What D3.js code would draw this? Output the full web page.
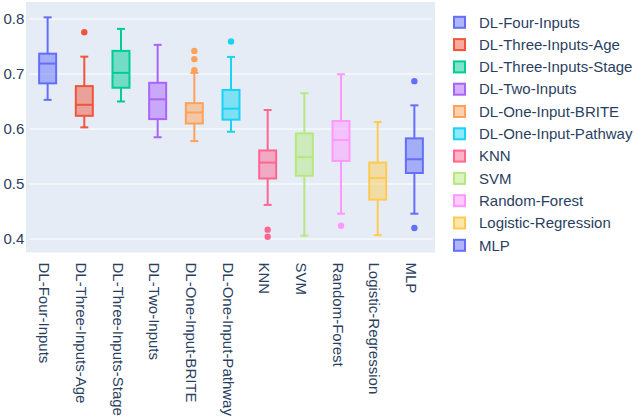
<!DOCTYPE html>
<html>
<head>
<meta charset="utf-8">
<script src="https://cdn.jsdelivr.net/npm/d3@7"></script>
<style>
  html, body { margin: 0; padding: 0; background: #ffffff; }
  svg { display: block; }
  text { font-family: "Liberation Sans", Arial, Helvetica, sans-serif; fill: #2a3f5f; }
</style>
</head>
<body>
<svg id="chart" width="634" height="417"></svg>
<script>
const categories = ["DL-Four-Inputs", "DL-Three-Inputs-Age", "DL-Three-Inputs-Stage", "DL-Two-Inputs",
  "DL-One-Input-BRITE", "DL-One-Input-Pathway", "KNN", "SVM", "Random-Forest", "Logistic-Regression", "MLP"];
const lowerWhisker = [0.653, 0.603, 0.650, 0.585, 0.578, 0.595, 0.462, 0.406, 0.446, 0.407, 0.446];
const q1Values     = [0.683, 0.624, 0.675, 0.618, 0.610, 0.617, 0.510, 0.515, 0.542, 0.4715, 0.520];
const medianValues = [0.719, 0.644, 0.702, 0.654, 0.630, 0.637, 0.539, 0.549, 0.580, 0.511, 0.545];
const q3Values     = [0.737, 0.678, 0.742, 0.684, 0.647, 0.671, 0.561, 0.592, 0.6145, 0.539, 0.583];
const upperWhisker = [0.803, 0.7315, 0.782, 0.753, 0.702, 0.731, 0.6345, 0.665, 0.6995, 0.6127, 0.643];
const outliers     = [[], [0.776], [], [], [0.742, 0.727, 0.707], [0.759], [0.417, 0.404], [], [0.424], [], [0.687, 0.420]];
const colors = ["#636efa", "#EF553B", "#00cc96", "#ab63fa", "#FFA15A", "#19d3f3", "#FF6692", "#B6E880", "#FF97FF", "#FECB52", "#636efa"];
const yTicks = [0.4, 0.5, 0.6, 0.7, 0.8];

const svg = d3.select("#chart");
const plot = { left: 29.3, right: 432.7, top: 2, bottom: 252.5 };
const fontSize = 15;

const x = d3.scaleBand().domain(categories).range([plot.left, plot.right]).padding(0);
const y = d3.scaleLinear().domain([0.8 - (252.5 - 19) / 550, 0.8 + (19 - 2) / 550]).range([plot.bottom, plot.top]);

// background
svg.append("rect").attr("x", 26).attr("y", plot.top).attr("width", 435 - 26).attr("height", plot.bottom - plot.top)
  .attr("fill", "#E5ECF6");

// gridlines
svg.append("g").selectAll("line").data(yTicks).join("line")
  .attr("x1", plot.left).attr("x2", plot.right)
  .attr("y1", d => y(d)).attr("y2", d => y(d))
  .attr("stroke", "#ffffff").attr("stroke-width", 1);

// y axis labels
const yAxis = d3.axisLeft(y).tickValues(yTicks).tickFormat(d3.format(".1f")).tickSize(0).tickPadding(5);
const yg = svg.append("g").attr("transform", `translate(${plot.left},0)`).call(yAxis);
yg.select(".domain").remove();
yg.selectAll("text").style("font-size", fontSize + "px").attr("fill", "#2a3f5f")
  .style("font-family", '"Liberation Sans", Arial, sans-serif');

// x axis labels (rotated)
const xAxis = d3.axisBottom(x).tickSize(0).tickPadding(0);
const xg = svg.append("g").attr("transform", `translate(0,${plot.bottom})`).call(xAxis);
xg.select(".domain").remove();
xg.selectAll(".tick text")
  .style("font-size", fontSize + "px").attr("fill", "#2a3f5f")
  .style("font-family", '"Liberation Sans", Arial, sans-serif')
  .attr("text-anchor", "start")
  .attr("dy", "0.35em")
  .attr("x", 0).attr("y", 0)
  .attr("transform", "translate(-3,10) rotate(90)");

// boxes
const boxW = 17;
const capW = 8;
const boxes = svg.append("g").selectAll("g").data(categories).join("g")
  .attr("transform", d => `translate(${x(d) + x.bandwidth() / 2},0)`);

boxes.each(function(d, i) {
  const g = d3.select(this);
  const c = colors[i];
  // whiskers
  g.append("line").attr("x1", 0).attr("x2", 0).attr("y1", y(upperWhisker[i])).attr("y2", y(q3Values[i]))
    .attr("stroke", c).attr("stroke-width", 2);
  g.append("line").attr("x1", 0).attr("x2", 0).attr("y1", y(q1Values[i])).attr("y2", y(lowerWhisker[i]))
    .attr("stroke", c).attr("stroke-width", 2);
  g.append("line").attr("x1", -capW / 2).attr("x2", capW / 2).attr("y1", y(upperWhisker[i])).attr("y2", y(upperWhisker[i]))
    .attr("stroke", c).attr("stroke-width", 2);
  g.append("line").attr("x1", -capW / 2).attr("x2", capW / 2).attr("y1", y(lowerWhisker[i])).attr("y2", y(lowerWhisker[i]))
    .attr("stroke", c).attr("stroke-width", 2);
  // box
  g.append("rect").attr("x", -boxW / 2).attr("width", boxW)
    .attr("y", y(q3Values[i])).attr("height", y(q1Values[i]) - y(q3Values[i]))
    .attr("fill", c).attr("fill-opacity", 0.5).attr("stroke", c).attr("stroke-width", 2);
  // median
  g.append("line").attr("x1", -boxW / 2).attr("x2", boxW / 2).attr("y1", y(medianValues[i])).attr("y2", y(medianValues[i]))
    .attr("stroke", c).attr("stroke-width", 2);
  // outliers
  g.selectAll("circle").data(outliers[i]).join("circle")
    .attr("cx", 0).attr("cy", v => y(v)).attr("r", 3.2).attr("fill", c);
});

// legend
const legend = svg.append("g").selectAll("g").data(categories).join("g")
  .attr("transform", (d, i) => `translate(0,${22.3 + i * 22.3})`);
legend.append("rect").attr("x", 454).attr("y", -5.5).attr("width", 11).attr("height", 11)
  .attr("fill", (d, i) => colors[i]).attr("fill-opacity", 0.5)
  .attr("stroke", (d, i) => colors[i]).attr("stroke-width", 2);
legend.append("text").attr("x", 479).attr("y", 0).attr("dy", "0.35em")
  .style("font-size", fontSize + "px").text(d => d);
</script>
</body>
</html>
